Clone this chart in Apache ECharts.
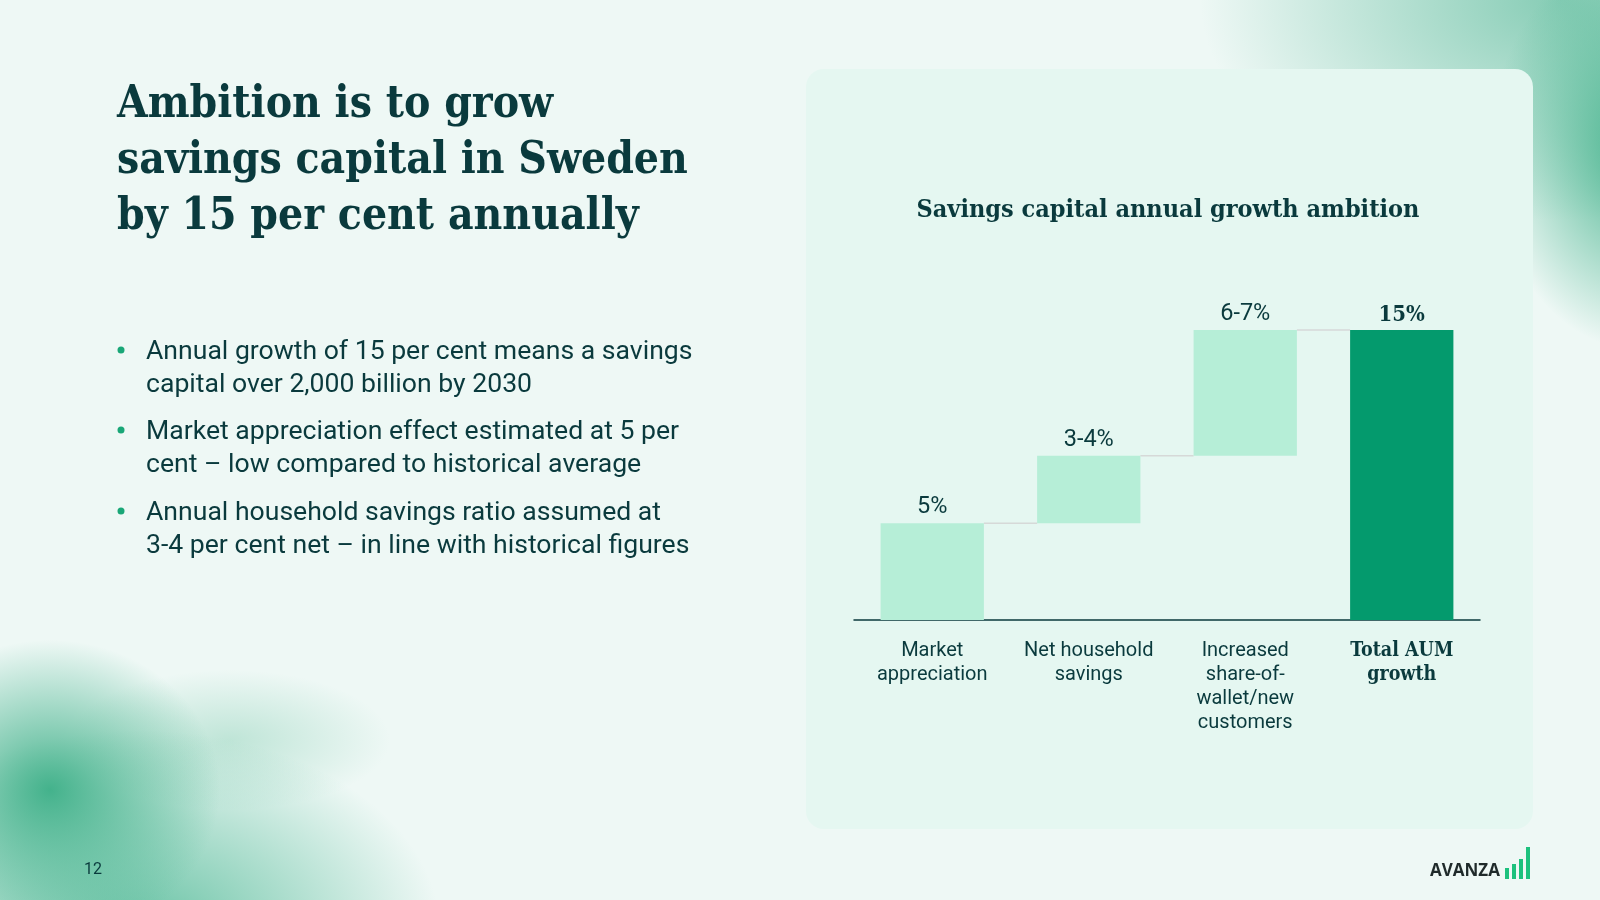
<!DOCTYPE html>
<html>
<head>
<meta charset="utf-8">
<script src="https://cdn.jsdelivr.net/npm/echarts@6/dist/echarts.min.js"></script>
<style>
  html, body { margin: 0; padding: 0; }
  body {
    width: 1600px; height: 900px; overflow: hidden;
    background:
      radial-gradient(ellipse 150px 200px at 1640px 150px, rgba(60,175,135,0.95), rgba(60,175,135,0) 100%),
      radial-gradient(ellipse 360px 220px at 1560px 0px, rgba(100,190,160,0.75), rgba(100,190,160,0) 100%),
      radial-gradient(ellipse 170px 150px at 50px 790px, rgba(60,175,135,0.95), rgba(60,175,135,0) 100%),
      radial-gradient(ellipse 300px 200px at 140px 930px, rgba(80,185,150,0.85), rgba(80,185,150,0) 100%),
      radial-gradient(ellipse 160px 70px at 230px 740px, rgba(120,200,170,0.4), rgba(120,200,170,0) 100%),
      #eef8f5;
  }
  #chart { width: 1600px; height: 900px; }
</style>
</head>
<body>
<div id="chart"></div>
<script>
// ---- Data ----
const categories = ['Market\nappreciation', 'Net household\nsavings', 'Increased\nshare-of-\nwallet/new\ncustomers', 'Total AUM\ngrowth'];
const stepValues = [5, 3.5, 6.5];      // contribution of each driver (percentage points)
const totalValue = 15;                 // total AUM growth ambition
const valueLabels = ['5%', '3-4%', '6-7%', '15%'];

const slideTitle = 'Ambition is to grow\nsavings capital in Sweden\nby 15 per cent annually';
const chartTitle = 'Savings capital annual growth ambition';
const bullets = [
  'Annual growth of 15 per cent means a savings\ncapital over 2,000 billion by 2030',
  'Market appreciation effect estimated at 5 per\ncent \u2013 low compared to historical average',
  'Annual household savings ratio assumed at\n3-4 per cent net \u2013 in line with historical figures'
];
const pageNumber = '12';

// ---- Derived waterfall structure ----
const baseValues = [];
const barValues = [];
const connectors = [];
let running = 0;
stepValues.forEach((v, i) => {
  baseValues.push(running);
  barValues.push(v);
  running += v;
  connectors.push([i, running]);
});
baseValues.push(0);
barValues.push(totalValue);

const DARK = '#0a3a3d';
const LIGHT_BAR = '#b6eed7';
const DARK_BAR = '#049a6d';
const SLAB = '"DejaVu Serif Condensed", "DejaVu Serif", serif';
const SANS = 'Roboto, "Noto Sans", sans-serif';

const chart = echarts.init(document.getElementById('chart'), null, { renderer: 'canvas' });

const graphics = [
  { type: 'rect', z: -10, shape: { x: 806, y: 69, width: 727, height: 760, r: 18 }, style: { fill: '#e5f7f1' } },
  { type: 'text', x: 117, y: 78, style: { text: slideTitle, font: 'bold 44px ' + SLAB, fill: DARK, lineHeight: 56, textVerticalAlign: 'top' } },
  { type: 'text', x: 84, y: 870, style: { text: pageNumber, font: '16px ' + SANS, fill: DARK, textVerticalAlign: 'middle' } },
  { type: 'text', x: 1430, y: 871, style: { text: 'AVANZA', font: 'bold 17px "Open Sans", sans-serif', fill: '#1f2a2a', textVerticalAlign: 'middle' } },
  { type: 'rect', shape: { x: 1505, y: 868, width: 4, height: 11 }, style: { fill: '#1cc17d' } },
  { type: 'rect', shape: { x: 1512, y: 864, width: 4, height: 15 }, style: { fill: '#1cc17d' } },
  { type: 'rect', shape: { x: 1519, y: 859, width: 4, height: 20 }, style: { fill: '#1cc17d' } },
  { type: 'rect', shape: { x: 1526, y: 847, width: 4, height: 32 }, style: { fill: '#1cc17d' } }
];
const bulletTops = [336, 416, 497];
bullets.forEach((b, i) => {
  graphics.push({ type: 'circle', shape: { cx: 121, cy: bulletTops[i] + 14, r: 3.5 }, style: { fill: '#19a777' } });
  graphics.push({ type: 'text', x: 146, y: bulletTops[i], style: { text: b, font: '26.6px ' + SANS, fill: DARK, lineHeight: 33, textVerticalAlign: 'top' } });
});

const option = {
  backgroundColor: 'transparent',
  animation: false,
  title: {
    text: chartTitle,
    left: 1163, top: 193, textAlign: 'center',
    textStyle: { fontFamily: SLAB, fontWeight: 'bold', fontSize: 25, color: DARK }
  },
  graphic: graphics,
  grid: { left: 854, right: 120, top: 330, bottom: 280 },
  xAxis: {
    type: 'category',
    data: categories,
    axisTick: { show: false },
    axisLine: { lineStyle: { color: DARK, width: 1.5 } },
    axisLabel: {
      interval: 0, margin: 19, color: DARK, fontFamily: SANS, fontSize: 20, lineHeight: 24,
      formatter: (v, i) => i === categories.length - 1 ? '{b|' + v.split('\n').join('}\n{b|') + '}' : v,
      rich: { b: { fontFamily: SLAB, fontWeight: 'bold', fontSize: 19.5, lineHeight: 24, color: DARK } }
    }
  },
  yAxis: { type: 'value', min: 0, max: 15, show: false, splitLine: { show: false } },
  series: [
    {
      type: 'bar', stack: 'wf', barWidth: '66%', silent: true,
      itemStyle: { color: 'transparent' },
      data: baseValues
    },
    {
      type: 'bar', stack: 'wf', barWidth: '66%',
      data: barValues.map((v, i) => ({
        value: v,
        itemStyle: { color: i === barValues.length - 1 ? DARK_BAR : LIGHT_BAR },
        label: i === barValues.length - 1 ? { fontFamily: SLAB, fontWeight: 'bold', fontSize: 22 } : {}
      })),
      label: {
        show: true, position: 'top', distance: 4,
        formatter: p => valueLabels[p.dataIndex],
        color: DARK, fontFamily: SANS, fontSize: 23.5
      }
    },
    {
      type: 'custom', silent: true, z: 1,
      data: connectors,
      renderItem: (params, api) => {
        const p = api.coord([api.value(0), api.value(1)]);
        const band = api.size([1, 0])[0];
        const bw = band * 0.66;
        return {
          type: 'line',
          shape: { x1: p[0] + bw / 2, y1: p[1], x2: p[0] + band - bw / 2, y2: p[1] },
          style: { stroke: '#d6d9d8', lineWidth: 1.5 }
        };
      }
    }
  ]
};
chart.setOption(option);
</script>
</body>
</html>
